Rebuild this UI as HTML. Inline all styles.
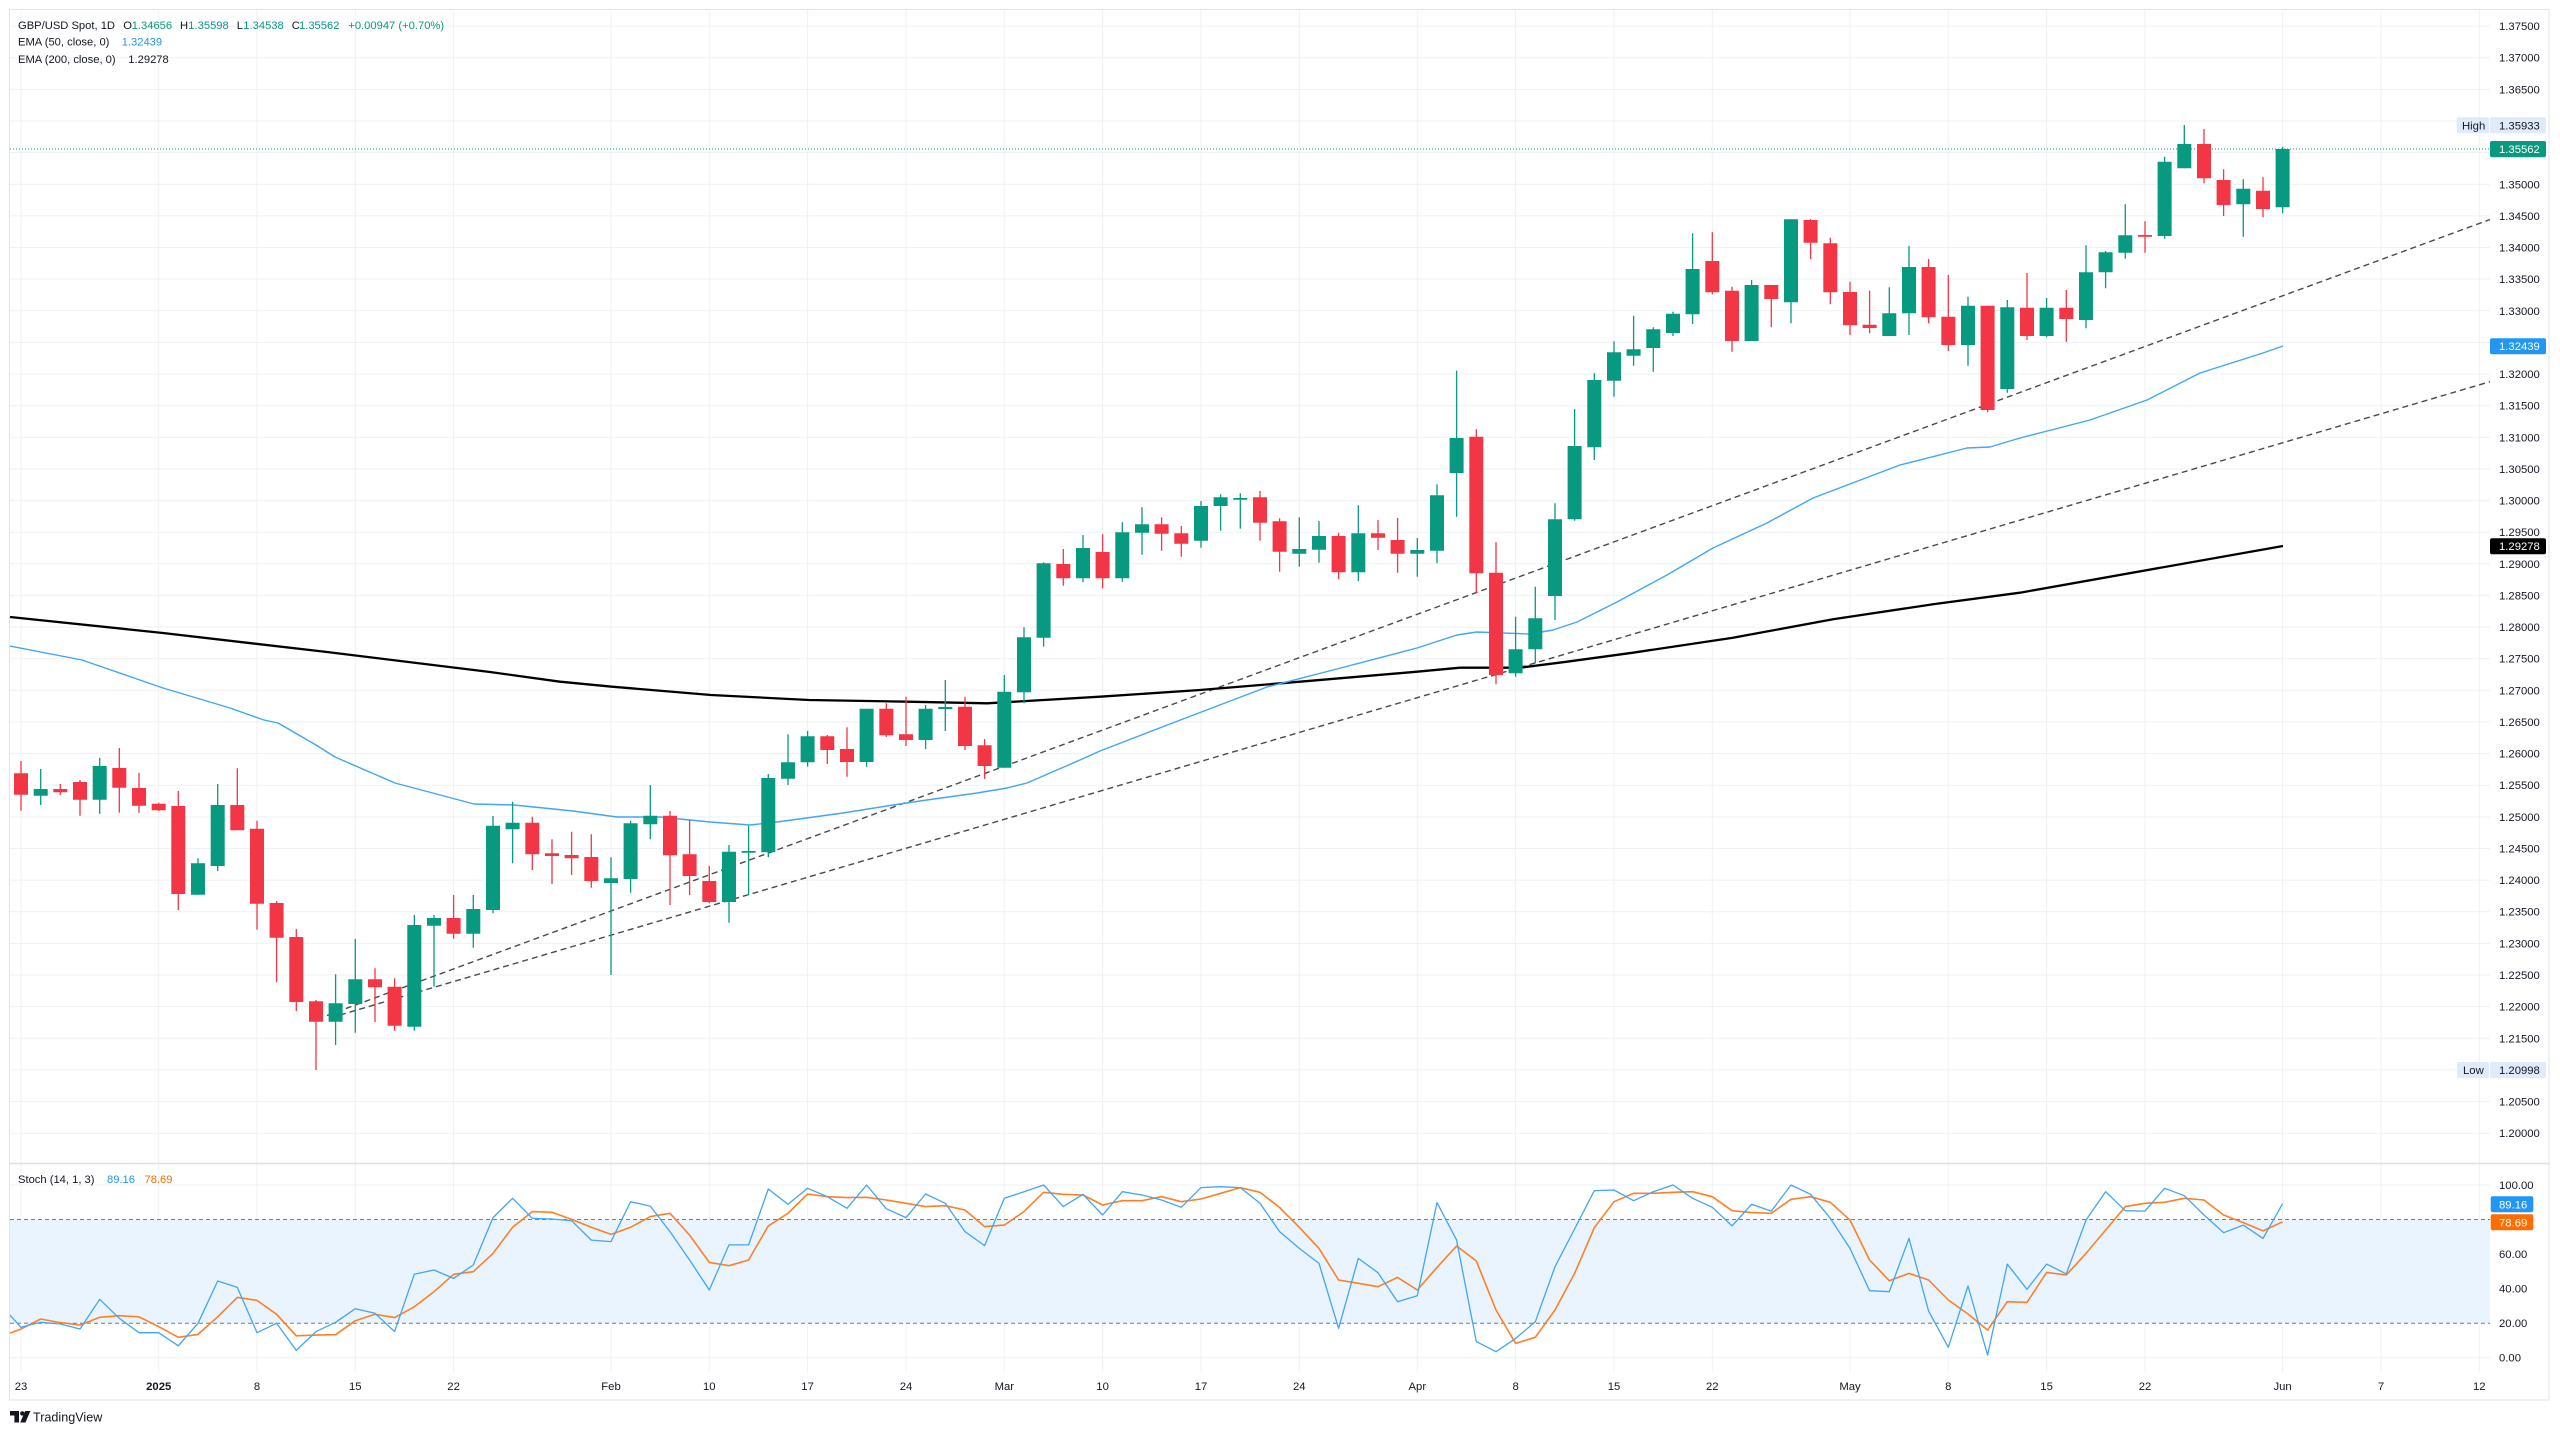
<!DOCTYPE html>
<html>
<head>
<meta charset="utf-8">
<style>
html,body{margin:0;padding:0;background:#ffffff;}
svg{display:block;}
text{font-family:"Liberation Sans",Arial,sans-serif;}
</style>
</head>
<body>
<svg width="2560" height="1435" viewBox="0 0 2560 1435" xmlns="http://www.w3.org/2000/svg">
<defs>
<clipPath id="mainclip"><rect x="10" y="10" width="2480" height="1153"/></clipPath>
<clipPath id="stochclip"><rect x="10" y="1164" width="2480" height="208"/></clipPath>
</defs>
<rect x="0" y="0" width="2560" height="1435" fill="#ffffff"/>

<!-- horizontal grid main -->
<g stroke="#eff1f4" stroke-width="1">
<path d="M10 26.1H2490M10 57.7H2490M10 89.4H2490M10 121H2490M10 152.6H2490M10 184.3H2490M10 215.9H2490M10 247.5H2490M10 279.1H2490M10 310.8H2490M10 342.4H2490M10 374H2490M10 405.7H2490M10 437.3H2490M10 468.9H2490M10 500.6H2490M10 532.2H2490M10 563.8H2490M10 595.4H2490M10 627.1H2490M10 658.7H2490M10 690.3H2490M10 722H2490M10 753.6H2490M10 785.2H2490M10 816.9H2490M10 848.5H2490M10 880.1H2490M10 911.7H2490M10 943.4H2490M10 975H2490M10 1006.6H2490M10 1038.3H2490M10 1069.9H2490M10 1101.5H2490M10 1133.2H2490"/>
<!-- stoch grid -->
<path d="M10 1185H2490M10 1254.1H2490M10 1288.6H2490M10 1357.7H2490"/>
<!-- vertical grid -->
<path d="M21 10V1372M158.7 10V1372M257 10V1372M355.3 10V1372M453.6 10V1372M611 10V1372M709.3 10V1372M807.6 10V1372M906 10V1372M1004.3 10V1372M1102.6 10V1372M1201 10V1372M1299.3 10V1372M1417.3 10V1372M1515.6 10V1372M1614 10V1372M1712.3 10V1372M1850 10V1372M1948.3 10V1372M2046.6 10V1372M2145 10V1372M2282.6 10V1372M2381 10V1372M2479.3 10V1372"/>
</g>

<g clip-path="url(#mainclip)">
<!-- dotted last price line -->
<line x1="10" y1="149" x2="2490" y2="149" stroke="#089981" stroke-width="1" stroke-dasharray="1 2"/>

<!-- trendlines -->
<line x1="327" y1="1015.5" x2="2490" y2="219.5" stroke="#4a4a4a" stroke-width="1.4" stroke-dasharray="6 4"/>
<line x1="340" y1="1015" x2="2490" y2="381.7" stroke="#4a4a4a" stroke-width="1.4" stroke-dasharray="6 4"/>

<!-- EMA 200 -->
<polyline fill="none" stroke="#000000" stroke-width="2.3" stroke-linejoin="round" points="10,617 163,633 327,652 490,672 560,681.7 612,686.7 711,695 809,700 908,701.7 987,703.3 1100,696.7 1200,690 1300,681.7 1417,671.7 1460,667.7 1520,667.7 1567,661.7 1633,652.7 1733,637.7 1833,619.3 1933,604.3 2020,592.7 2283,546"/>

<!-- EMA 50 -->
<polyline fill="none" stroke="#42a5f5" stroke-width="1.4" stroke-linejoin="round" points="10,646 82,660 163,688 230,708 264,720 278,723 316,745 335,757 395,783 474,804 514,805 573,811 617,817 660,817 710,822 750,825 777,822 843,813 893,805 927,800 977,793 1007,788 1027,783 1080,760 1100,751 1183,719 1267,687 1333,670 1417,648 1457,635 1477,632 1530,634 1553,630 1577,622 1617,602 1667,575 1713,548 1767,523 1813,498 1900,465 1967,448 1990,447 2020,438 2090,420 2147,400 2200,373 2263,353 2283,346"/>

<!-- red candles -->
<path stroke="#f23645" stroke-width="1.3" fill="none" d="M21 761V810.7M60.3 784V795M80 780V815.7M119.3 748V812.7M139 772.7V812.7M158.7 802.7V811M178.3 791V910M237.3 768.3V830.3M257 820.7V929.7M276.6 901V982.3M296.3 929V1011M316 1000V1070M375 968.3V1022M394.6 978.3V1030.7M453.6 895V938.7M532.3 816.7V870M552 839.3V884M571.6 831.7V875M591.3 834.3V887.7M670 811V905M689.6 820V895M709.3 866V903.3M827.3 735V764M847 727.3V776.7M886.3 703.3V737M906 696.7V746M965 696.7V750M984.6 739V779M1063.3 549V585.7M1102.6 534.3V588.3M1161.6 517.3V550.7M1181.3 526V556.7M1260 491V540.7M1279.6 518.3V571.7M1338.6 532.7V579.3M1378 520V550M1397.6 518V572.7M1476.3 429.3V593.3M1496 542.3V684.3M1712.3 232.3V294.3M1732 286.7V351.7M1771.3 285V327.3M1810.6 219V259M1830.3 237.7V304.3M1850 281.7V335M1869.6 290.7V333.3M1928.6 259V323.3M1948.3 275V351M1987.6 305.7V412.3M2027 273V340M2066.3 290V341.7M2145 221.3V252.7M2204 129V183.3M2223.6 169.3V216M2263 177.3V217.3"/>
<path fill="#f23645" d="M14 773.3h14V794.7h-14ZM53.3 789h14V792.3h-14ZM73 782h14V799.7h-14ZM112.3 768h14V787.7h-14ZM132 788h14V805.7h-14ZM151.7 803.7h14V810.3h-14ZM171.3 806h14V894h-14ZM230.3 805h14V830.3h-14ZM250 828.7h14V903.7h-14ZM269.6 903h14V937.7h-14ZM289.3 937h14V1002h-14ZM309 1001.3h14V1021.7h-14ZM368 979.3h14V987.3h-14ZM387.6 986.7h14V1025.7h-14ZM446.6 918h14V933.7h-14ZM525.3 822.7h14V854.3h-14ZM545 853.3h14V856h-14ZM564.6 855h14V858.3h-14ZM584.3 857h14V881h-14ZM663 815.7h14V855.3h-14ZM682.6 854.3h14V876h-14ZM702.3 881h14V902h-14ZM820.3 736.3h14V750h-14ZM840 749h14V762h-14ZM879.3 708.7h14V735.3h-14ZM899 734.3h14V740h-14ZM958 706.7h14V746h-14ZM977.6 745.3h14V766h-14ZM1056.3 564h14V578.3h-14ZM1095.6 552h14V578.3h-14ZM1154.6 524.3h14V533.7h-14ZM1174.3 533.3h14V543.7h-14ZM1253 497.3h14V522.7h-14ZM1272.6 521.3h14V551.7h-14ZM1331.6 536h14V572.3h-14ZM1371 533.3h14V537.7h-14ZM1390.6 540h14V553.7h-14ZM1469.3 436.7h14V573.3h-14ZM1489 572.7h14V675h-14ZM1705.3 261h14V292.3h-14ZM1725 290.7h14V341h-14ZM1764.3 285h14V299h-14ZM1803.6 220h14V242.7h-14ZM1823.3 243.3h14V292.3h-14ZM1843 292h14V325.3h-14ZM1862.6 324.7h14V328h-14ZM1921.6 267h14V317.3h-14ZM1941.3 316.7h14V345h-14ZM1980.6 305.7h14V410h-14ZM2020 307.7h14V336h-14ZM2059.3 307.7h14V319h-14ZM2138 235h14V236.8h-14ZM2197 144h14V178.3h-14ZM2216.6 180h14V205h-14ZM2256 190.7h14V209h-14Z"/>

<!-- green candles -->
<path stroke="#089981" stroke-width="1.3" fill="none" d="M40.7 769V805M99.7 757.7V813.7M198 858.3V894.7M217.7 784V871M335.6 974.3V1045M355.3 939V1032.7M414.3 915V1030.7M434 915V986.7M473.3 895V947.7M493 816V913.3M512.6 801.7V863.3M611 857.3V975M630.6 820.7V892.7M650.3 785V839.3M729 845V922.7M748.6 825.7V895M768.3 774V857.3M788 734.3V785M807.6 731V766.7M866.6 708.7V766.7M925.6 705V749M945.3 680V731M1004.3 675V767.7M1024 627.3V703.3M1043.6 562.3V646.7M1083 535V582.3M1122.3 522.3V581.7M1142 507.3V554.7M1201 501V547.7M1220.6 494.3V530.7M1240.3 493.3V528.7M1299.3 517.3V566.7M1319 521V562.7M1358.3 505.3V581M1417.3 538V576.7M1437 484.3V563.3M1456.6 370.6V516.7M1515.6 616.7V676.7M1535.3 586.7V663.3M1555 503.3V620M1574.6 409V520.7M1594.3 373.3V460M1614 341.3V396.7M1633.6 315.7V365.7M1653.3 327.3V371.7M1673 311.7V336M1692.6 233.3V324M1751.6 280V341M1791 219.3V323.3M1889.3 287.3V336M1909 246V335M1968 296.7V365.7M2007.3 300V392.7M2046.6 298V337.3M2086 245.3V328.3M2105.6 251V288.3M2125.3 204.3V258.7M2164.6 156.7V238.7M2184.3 125V168.3M2243.3 179.3V236.7M2282.6 146.7V213.3"/>
<path fill="#089981" d="M33.7 789h14V795.7h-14ZM92.7 766h14V799.7h-14ZM191 863.3h14V894.7h-14ZM210.7 805h14V866h-14ZM328.6 1003.3h14V1021.7h-14ZM348.3 979.3h14V1004h-14ZM407.3 925h14V1026.7h-14ZM427 918h14V925.7h-14ZM466.3 909h14V933.7h-14ZM486 825.7h14V910h-14ZM505.6 822.7h14V829.3h-14ZM604 878.3h14V883h-14ZM623.6 823.3h14V879h-14ZM643.3 815.7h14V824.3h-14ZM722 851.7h14V902h-14ZM741.6 851h14V852.8h-14ZM761.3 778h14V852.3h-14ZM781 762.3h14V778.7h-14ZM800.6 736.3h14V762.3h-14ZM859.6 708.7h14V762h-14ZM918.6 708.7h14V740h-14ZM938.3 707h14V709h-14ZM997.3 691.7h14V767.7h-14ZM1017 637.3h14V692.3h-14ZM1036.6 563.3h14V637.7h-14ZM1076 548h14V578.3h-14ZM1115.3 532.3h14V578.3h-14ZM1135 524.3h14V532.7h-14ZM1194 506h14V540.7h-14ZM1213.6 497.3h14V506h-14ZM1233.3 498h14V499.8h-14ZM1292.3 549h14V553.7h-14ZM1312 536h14V549.7h-14ZM1351.3 533.3h14V572.3h-14ZM1410.3 550h14V553.7h-14ZM1430 495.3h14V550.7h-14ZM1449.6 438h14V473h-14ZM1508.6 649.3h14V673.3h-14ZM1528.3 618.3h14V649.3h-14ZM1548 519.3h14V596h-14ZM1567.6 446h14V519.3h-14ZM1587.3 380h14V447.3h-14ZM1607 352.3h14V380.7h-14ZM1626.6 349.3h14V355.7h-14ZM1646.3 329.3h14V348h-14ZM1666 313.7h14V333h-14ZM1685.6 269h14V314.3h-14ZM1744.6 285h14V341h-14ZM1784 219.3h14V302.3h-14ZM1882.3 313.3h14V336h-14ZM1902 267h14V313.3h-14ZM1961 305.7h14V345h-14ZM2000.3 307.3h14V389h-14ZM2039.6 307.7h14V336h-14ZM2079 272.3h14V320h-14ZM2098.6 252.3h14V272.3h-14ZM2118.3 235.3h14V252.7h-14ZM2157.6 161.7h14V236h-14ZM2177.3 144h14V168.3h-14ZM2236.3 188.7h14V204.3h-14ZM2275.6 149h14V207.3h-14Z"/>
</g>

<!-- Stochastic pane -->
<g clip-path="url(#stochclip)">
<rect x="10" y="1219.5" width="2480" height="103.7" fill="#e9f4fe"/>
<line x1="10" y1="1219.5" x2="2490" y2="1219.5" stroke="#787b86" stroke-width="1" stroke-dasharray="4 3"/>
<line x1="10" y1="1323.2" x2="2490" y2="1323.2" stroke="#787b86" stroke-width="1" stroke-dasharray="4 3"/>
<polyline fill="none" stroke="#ff7f26" stroke-width="1.6" stroke-linejoin="round" points="9.8,1333.3 21,1329 40.7,1319 60.3,1322.6 80,1325.1 99.7,1317.3 119.3,1315.7 139,1316.8 158.7,1326.6 178.3,1337.3 198,1334.4 217.7,1316.8 237.3,1297.4 257,1300.4 276.6,1314.3 296.3,1335.8 316,1335.1 335.6,1334.7 355.3,1320.7 375,1314.3 394.6,1317.6 414.3,1306.8 434,1291.7 453.6,1274.3 473.3,1271.7 493,1253.4 512.6,1227.3 532.3,1211.6 552,1212.3 571.6,1219.4 591.3,1227.3 611,1234.4 630.6,1227.3 650.3,1216.6 670,1213.3 689.6,1235.1 709.3,1262.4 729,1265.7 748.6,1260 768.3,1225.9 788,1213.3 807.6,1194 827.3,1196.7 847,1197.6 866.6,1197.3 886.3,1200 906,1203.3 925.6,1206.6 945.3,1205.7 965,1210 984.6,1226.6 1004.3,1225.1 1024,1211.6 1043.6,1192.3 1063.3,1194.3 1083,1195 1102.6,1205 1122.3,1200.7 1142,1200.7 1161.6,1196.7 1181.3,1201.7 1201,1199 1220.6,1193.3 1240.3,1187.6 1260,1192.3 1279.6,1207.5 1299.3,1227.3 1319,1248.4 1338.6,1280 1358.3,1283.3 1378,1286.7 1397.6,1277.4 1417.3,1290 1437,1267.4 1456.6,1246 1476.3,1261 1496,1310 1515.6,1343.4 1535.3,1337.3 1555,1310 1574.6,1273.4 1594.3,1227.7 1614,1201.7 1633.6,1193.3 1653.3,1193.3 1673,1192.3 1692.6,1191.7 1712.3,1196.7 1732,1210.7 1751.6,1212.6 1771.3,1213.3 1791,1199.3 1810.6,1196.7 1830.3,1202.3 1850,1220.1 1869.6,1260 1889.3,1280.7 1909,1273.4 1928.6,1280 1948.3,1300 1968,1314 1987.6,1330.1 2007.3,1301.7 2027,1302.4 2046.6,1272.4 2066.3,1275 2086,1253.4 2105.6,1230.1 2125.3,1206.6 2145,1203.3 2164.6,1202.3 2184.3,1198.3 2204,1200 2223.6,1215 2243.3,1222.6 2263,1230.9 2282.6,1221.8"/>
<polyline fill="none" stroke="#42a5f5" stroke-width="1.3" stroke-linejoin="round" points="9.8,1315 21,1327.3 40.7,1322.3 60.3,1324 80,1329 99.7,1299.3 119.3,1318.3 139,1332.7 158.7,1332.7 178.3,1345.8 198,1323.3 217.7,1281 237.3,1287.4 257,1332.7 276.6,1323.3 296.3,1350.4 316,1331.6 335.6,1322.3 355.3,1308.7 375,1313.3 394.6,1331.6 414.3,1274.3 434,1270 453.6,1278.4 473.3,1265 493,1217.6 512.6,1198.3 532.3,1218.3 552,1219 571.6,1220.7 591.3,1240.1 611,1241.6 630.6,1201.7 650.3,1206.1 670,1231.6 689.6,1260 709.3,1290 729,1244.9 748.6,1244.9 768.3,1189 788,1204.3 807.6,1188.3 827.3,1196.7 847,1208.3 866.6,1185 886.3,1208.7 906,1217.6 925.6,1194 945.3,1203.3 965,1231.6 984.6,1245.6 1004.3,1198.3 1024,1191.7 1043.6,1185 1063.3,1206.6 1083,1194.3 1102.6,1215 1122.3,1191.7 1142,1195 1161.6,1200 1181.3,1207.3 1201,1187.6 1220.6,1186.7 1240.3,1187.6 1260,1203.3 1279.6,1231.6 1299.3,1248.4 1319,1263.4 1338.6,1328.3 1358.3,1258.4 1378,1272.7 1397.6,1301.7 1417.3,1295.7 1437,1202.6 1456.6,1240.1 1476.3,1341.6 1496,1351.7 1515.6,1338.4 1535.3,1321.8 1555,1266.7 1574.6,1229 1594.3,1190.7 1614,1190 1633.6,1200.7 1653.3,1191.7 1673,1185 1692.6,1198.3 1712.3,1207.3 1732,1225.9 1751.6,1204.3 1771.3,1211.1 1791,1185 1810.6,1194.3 1830.3,1218.3 1850,1248.4 1869.6,1290.7 1889.3,1291.7 1909,1238.4 1928.6,1311.1 1948.3,1347.3 1968,1286 1987.6,1355.1 2007.3,1264.1 2027,1289.3 2046.6,1264.1 2066.3,1273.9 2086,1220.1 2105.6,1191.7 2125.3,1210.7 2145,1211.1 2164.6,1188.3 2184.3,1195.7 2204,1215 2223.6,1232.7 2243.3,1225.1 2263,1238.4 2282.6,1203.7"/>
</g>

<!-- frame and pane separator -->
<rect x="9.5" y="9.5" width="2539.5" height="1390.5" fill="none" stroke="#e0e3eb" stroke-width="1"/>
<line x1="10" y1="1163.5" x2="2549" y2="1163.5" stroke="#dcdfe6" stroke-width="1.5"/>

<!-- price axis labels -->
<g font-size="11.3" fill="#131722">
<text x="2499" y="30.1">1.37500</text>
<text x="2499" y="61.7">1.37000</text>
<text x="2499" y="93.4">1.36500</text>
<text x="2499" y="125">1.36000</text>
<text x="2499" y="156.6">1.35500</text>
<text x="2499" y="188.3">1.35000</text>
<text x="2499" y="219.9">1.34500</text>
<text x="2499" y="251.5">1.34000</text>
<text x="2499" y="283.1">1.33500</text>
<text x="2499" y="314.8">1.33000</text>
<text x="2499" y="346.4">1.32500</text>
<text x="2499" y="378">1.32000</text>
<text x="2499" y="409.7">1.31500</text>
<text x="2499" y="441.3">1.31000</text>
<text x="2499" y="472.9">1.30500</text>
<text x="2499" y="504.6">1.30000</text>
<text x="2499" y="536.2">1.29500</text>
<text x="2499" y="567.8">1.29000</text>
<text x="2499" y="599.4">1.28500</text>
<text x="2499" y="631.1">1.28000</text>
<text x="2499" y="662.7">1.27500</text>
<text x="2499" y="694.3">1.27000</text>
<text x="2499" y="726">1.26500</text>
<text x="2499" y="757.6">1.26000</text>
<text x="2499" y="789.2">1.25500</text>
<text x="2499" y="820.9">1.25000</text>
<text x="2499" y="852.5">1.24500</text>
<text x="2499" y="884.1">1.24000</text>
<text x="2499" y="915.7">1.23500</text>
<text x="2499" y="947.4">1.23000</text>
<text x="2499" y="979">1.22500</text>
<text x="2499" y="1010.6">1.22000</text>
<text x="2499" y="1042.3">1.21500</text>
<text x="2499" y="1073.9">1.21000</text>
<text x="2499" y="1105.5">1.20500</text>
<text x="2499" y="1137.2">1.20000</text>
<!-- stoch axis -->
<text x="2499" y="1189">100.00</text>
<text x="2499" y="1258.1">60.00</text>
<text x="2499" y="1292.6">40.00</text>
<text x="2499" y="1327.2">20.00</text>
<text x="2499" y="1361.7">0.00</text>
</g>

<!-- price tags -->
<rect x="2456.7" y="117.3" width="32.3" height="16" rx="2" fill="#dfeafb"/>
<rect x="2490" y="117.3" width="56" height="16" rx="2" fill="#dfeafb"/>
<text x="2462" y="129.3" font-size="11.3" fill="#131722">High</text>
<text x="2499" y="129.3" font-size="11.3" fill="#131722">1.35933</text>

<rect x="2490" y="141" width="56" height="16.3" rx="2" fill="#089981"/>
<text x="2499" y="153.2" font-size="11.3" fill="#ffffff">1.35562</text>

<rect x="2490" y="338.2" width="56" height="16" rx="2" fill="#2196f3"/>
<text x="2499" y="350.2" font-size="11.3" fill="#ffffff">1.32439</text>

<rect x="2490" y="538.2" width="56" height="16" rx="2" fill="#000000"/>
<text x="2499" y="550.2" font-size="11.3" fill="#ffffff">1.29278</text>

<rect x="2457" y="1062" width="32" height="16" rx="2" fill="#dfeafb"/>
<rect x="2490" y="1062" width="56" height="16" rx="2" fill="#dfeafb"/>
<text x="2463" y="1074" font-size="11.3" fill="#131722">Low</text>
<text x="2499" y="1074" font-size="11.3" fill="#131722">1.20998</text>

<rect x="2490.7" y="1196.3" width="42.6" height="16" rx="2" fill="#2196f3"/>
<text x="2499" y="1208.3" font-size="11.3" fill="#ffffff">89.16</text>
<rect x="2490.7" y="1214.3" width="42.6" height="16" rx="2" fill="#ff6d00"/>
<text x="2499" y="1226.3" font-size="11.3" fill="#ffffff">78.69</text>

<!-- x axis labels -->
<g font-size="11.3" fill="#131722" text-anchor="middle">
<text x="21" y="1390">23</text>
<text x="158.7" y="1390" font-weight="bold">2025</text>
<text x="257" y="1390">8</text>
<text x="355.3" y="1390">15</text>
<text x="453.6" y="1390">22</text>
<text x="611" y="1390">Feb</text>
<text x="709.3" y="1390">10</text>
<text x="807.6" y="1390">17</text>
<text x="906" y="1390">24</text>
<text x="1004.3" y="1390">Mar</text>
<text x="1102.6" y="1390">10</text>
<text x="1201" y="1390">17</text>
<text x="1299.3" y="1390">24</text>
<text x="1417.3" y="1390">Apr</text>
<text x="1515.6" y="1390">8</text>
<text x="1614" y="1390">15</text>
<text x="1712.3" y="1390">22</text>
<text x="1850" y="1390">May</text>
<text x="1948.3" y="1390">8</text>
<text x="2046.6" y="1390">15</text>
<text x="2145" y="1390">22</text>
<text x="2282.6" y="1390">Jun</text>
<text x="2381" y="1390">7</text>
<text x="2479.3" y="1390">12</text>
</g>

<!-- legend -->
<g font-size="11.2" fill="#131722">
<text x="18" y="29">GBP/USD Spot, 1D</text>
<text x="123.3" y="29">O</text><text x="131.7" y="29" fill="#089981">1.34656</text>
<text x="180" y="29">H</text><text x="188.3" y="29" fill="#089981">1.35598</text>
<text x="236.7" y="29">L</text><text x="243.3" y="29" fill="#089981">1.34538</text>
<text x="291.7" y="29">C</text><text x="299" y="29" fill="#089981">1.35562</text>
<text x="348.3" y="29" fill="#089981">+0.00947 (+0.70%)</text>
<text x="18" y="45.7">EMA (50, close, 0)</text><text x="121.7" y="45.7" fill="#2196f3">1.32439</text>
<text x="18" y="62.8">EMA (200, close, 0)</text><text x="128.3" y="62.8" fill="#131722">1.29278</text>
<text x="18" y="1183">Stoch (14, 1, 3)</text><text x="107" y="1183" fill="#2196f3">89.16</text><text x="144.5" y="1183" fill="#ff6d00">78.69</text>
</g>

<!-- TradingView logo -->
<g fill="#131722">
<path d="M10 1411h9v11.5h-4.6v-7h-4.4z"/>
<circle cx="22.3" cy="1413.4" r="2.2"/>
<path d="M25.2 1411h5.2l-5 11.5h-5.2z"/>
<text x="33" y="1421.3" font-size="12.6">TradingView</text>
</g>
</svg>
</body>
</html>
